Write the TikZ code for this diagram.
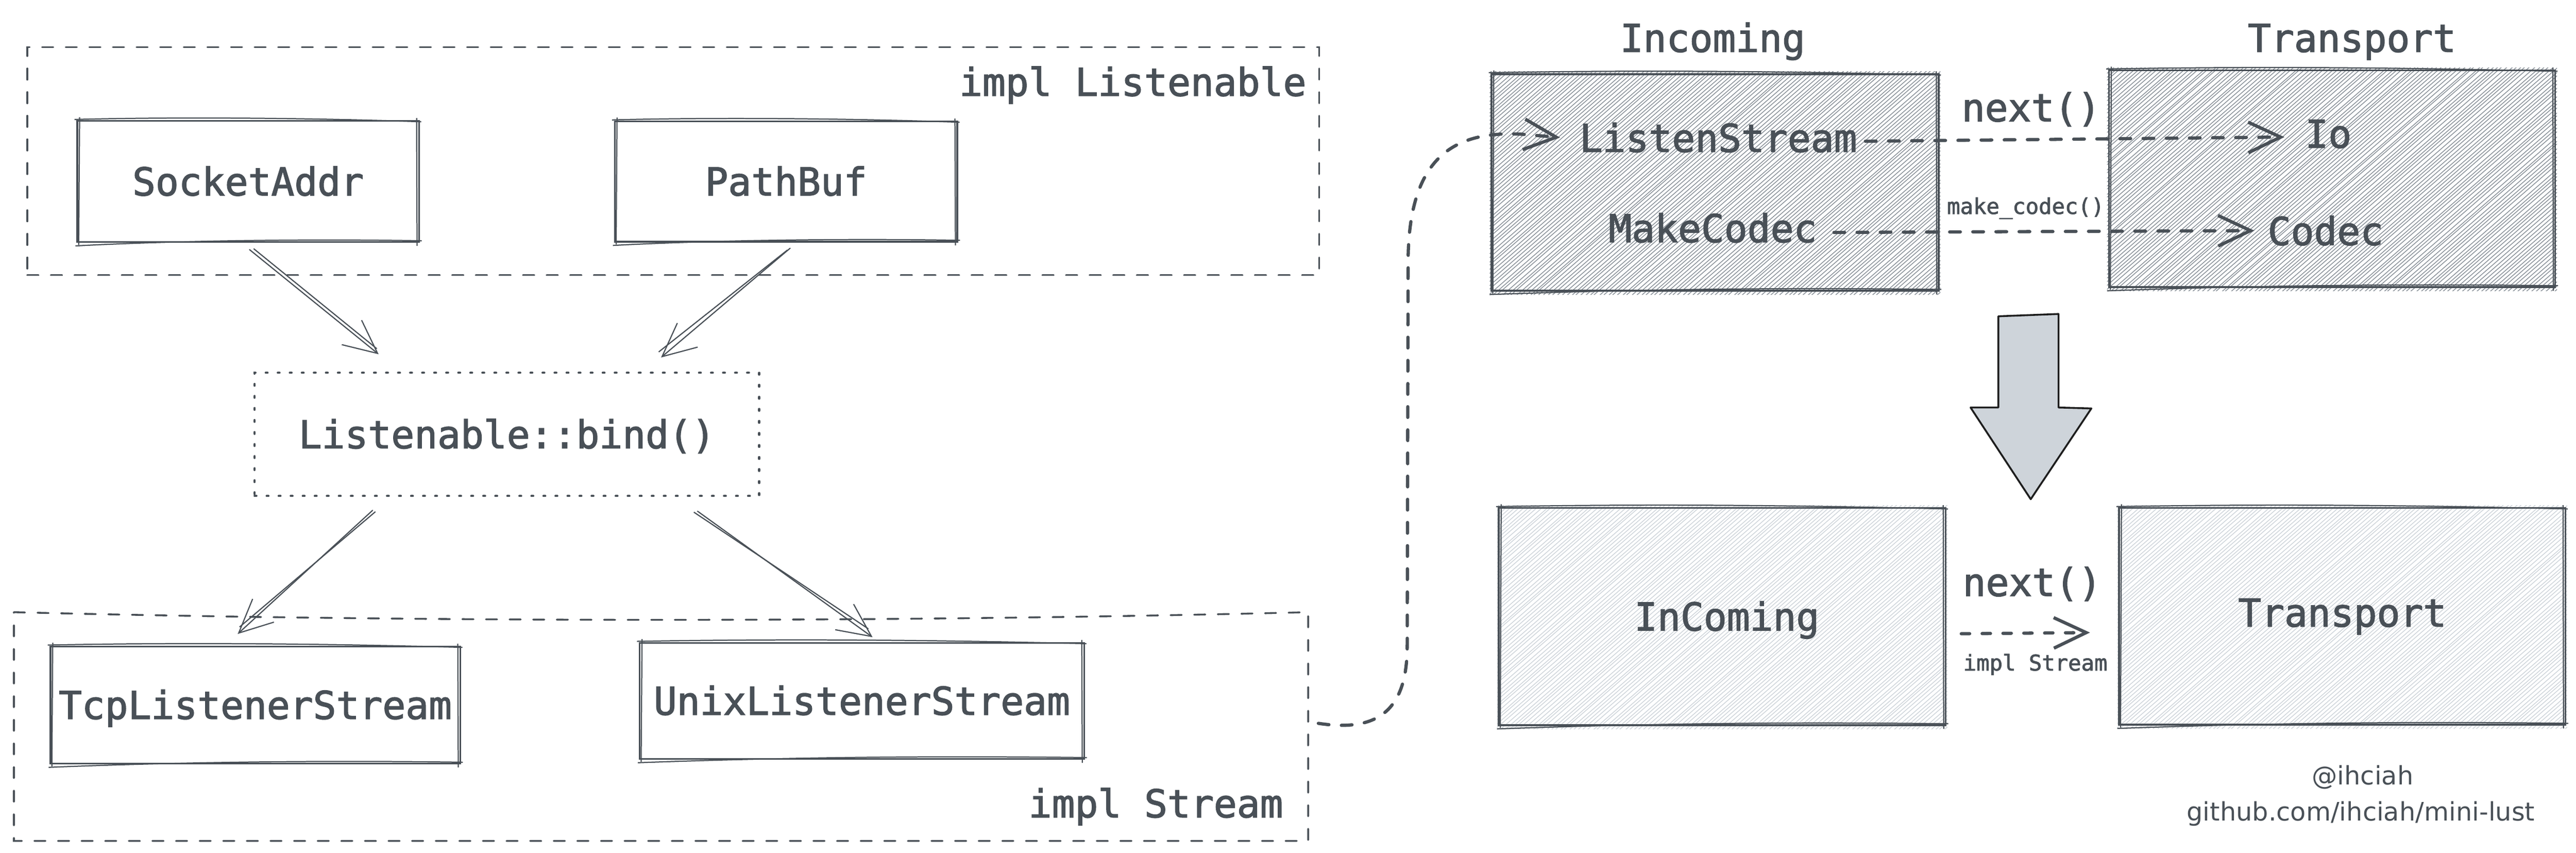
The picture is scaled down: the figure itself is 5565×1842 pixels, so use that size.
\documentclass[tikz,border=0pt]{standalone}
\usepackage{fontspec}
\setmonofont{DejaVu Sans Mono}[FakeBold=2]
\newfontfamily\handfont{DejaVu Sans}
\usetikzlibrary{calc,arrows.meta}
\definecolor{ink}{HTML}{495057}
\definecolor{hatchdark}{HTML}{868E96}
\definecolor{hatchlight}{HTML}{CED4DA}
\definecolor{arrowfill}{HTML}{CED4DA}
\definecolor{arrowink}{HTML}{1E1E1E}
\newcommand\skout[1]{%
  \draw[skline] ($(#1.north west)+(-6,-3)$) .. controls ($(#1.north)+(-150,-9)$) and ($(#1.north)+(150,-6)$) .. ($(#1.north east)+(5,2)$);
  \draw[skline] ($(#1.south west)+(-4,8)$) .. controls ($(#1.south)+(-150,-4)$) and ($(#1.south)+(150,-7)$) .. ($(#1.south east)+(6,-3)$);
  \draw[skline] ($(#1.north east)+(-5,-6)$) -- ($(#1.south east)+(-4,8)$);
  \draw[skline] ($(#1.north west)+(5,-8)$) -- ($(#1.south west)+(3,6)$);
}
\newcommand\hatchfill[2]{%
  \begin{scope}
    \clip ($(#1.north west)+(-4,-6)$) rectangle ($(#1.south east)+(4,8)$);
    \foreach \k in {0,...,160} {\draw[#2, line width=1.6pt] ($(#1.south west)+(\k*10-570+4*rnd,10)$) -- ++(800,-695);}
  \end{scope}
}
\begin{document}
\begin{tikzpicture}[x=1pt,y=-1pt,
  every node/.style={inner sep=0pt, outer sep=0pt, text=ink},
  mono/.style={font=\fontsize{83pt}{100pt}\selectfont\ttfamily},
  smallmono/.style={font=\fontsize{47pt}{56pt}\selectfont\ttfamily},
  hand/.style={font=\fontsize{55pt}{66pt}\selectfont\handfont},
  sbox/.style={mono, draw=ink, line width=3.5pt, text height=60pt, text depth=0pt},
  boxtext/.style={mono, text height=60pt, text depth=0pt},
  hbox/.style={draw=ink, line width=4pt},
  skline/.style={draw=ink, line width=2.5pt},
  dashbox/.style={draw=ink, line width=4pt, line cap=round, dash pattern=on 24pt off 27pt},
  dotbox/.style={draw=ink, line width=4.5pt, line cap=round, dash pattern=on 4pt off 22pt},
  flow/.style={draw=ink, line width=7pt, line cap=round, dash pattern=on 23pt off 27pt, -{Straight Barb[length=70pt,width=66pt]}},
  flowshort/.style={draw=ink, line width=7pt, line cap=round, dash pattern=on 18pt off 27pt, -{Straight Barb[length=70pt,width=66pt]}},
  thinarrow/.style={draw=ink, line width=2.5pt, line cap=round, -{Straight Barb[length=72pt,width=68pt]}},
  bigarrow/.style={draw=arrowink, fill=arrowfill, line width=4pt, line join=round},
]
\pgfmathsetseed{11}
\useasboundingbox (0,0) rectangle (5565,1842);
\fill[white] (0,0) rectangle (5565,1842);

% ---------------- left part ----------------
\node[dashbox, minimum width=2791pt, minimum height=492pt] (implL) at (1454.5,348) {};
\node[mono, anchor=base east] (lblL) at (2822,207) {impl Listenable};

\node[sbox, minimum width=738pt, minimum height=262pt] (socket) at (536,392) {SocketAddr};
\skout{socket}
\node[sbox, minimum width=740pt, minimum height=260pt] (pathbuf) at (1698,392) {PathBuf};
\skout{pathbuf}

\node[dotbox, mono, text height=60pt, text depth=0pt, minimum width=1090pt, minimum height=266pt] (bind) at (1095,938) {Listenable::bind()};

\node[minimum width=2796pt, minimum height=494pt] (implS) at (1428,1569) {};
\draw[dashbox] (implS.north west) .. controls ($(implS.north west)+(900,22)$) and ($(implS.north east)+(-900,22)$) .. (implS.north east) -- (implS.south east) -- (implS.south west) -- cycle;
\node[mono, anchor=base east] (lblS) at (2772,1765) {impl Stream};

\node[sbox, minimum width=885pt, minimum height=253pt] (tcp) at (551.5,1522.5) {TcpListenerStream};
\skout{tcp}
\node[sbox, minimum width=960pt, minimum height=251pt] (unix) at (1862,1513.5) {UnixListenerStream};
\skout{unix}

% arrows (sketchy double lines)
\draw[thinarrow] ($(socket.south)+(3,16)$) -- ($(bind.north)+(-277,-40)$);
\draw[skline] ($(socket.south)+(12,14)$) -- ($(bind.north)+(-281,-52)$);
\draw[thinarrow] ($(pathbuf.south)+(9,14)$) -- ($(bind.north)+(333,-33)$);
\draw[skline] ($(pathbuf.south)+(3,18)$) -- ($(bind.north)+(328,-45)$);
\draw[thinarrow] ($(bind.south)+(-290,31)$) -- ($(tcp.north)+(-38,-27)$);
\draw[skline] ($(bind.south)+(-284,34)$) -- ($(tcp.north)+(-34,-42)$);
\draw[thinarrow] ($(bind.south)+(412,33)$) -- ($(unix.north)+(23,-12)$);
\draw[skline] ($(bind.south)+(404,35)$) -- ($(unix.north)+(14,-30)$);

% ---------------- right upper ----------------
\node[mono, anchor=base] (hInc) at (3700,112) {Incoming};
\node[mono, anchor=base] (hTrans) at (5081,112) {Transport};

\node[minimum width=966pt, minimum height=468pt] (inc) at (3705,394) {};
\hatchfill{inc}{hatchdark}
\draw[hbox] (inc.north west) rectangle (inc.south east);
\skout{inc}
\node[minimum width=964pt, minimum height=468pt] (trans) at (5038,386) {};
\hatchfill{trans}{hatchdark}
\draw[hbox] (trans.north west) rectangle (trans.south east);
\skout{trans}

\node[mono, anchor=base] (listen) at (3712,328) {ListenStream};
\node[mono, anchor=base] (io) at (5030,319) {Io};
\node[mono, anchor=base] (mkc) at (3700,523) {MakeCodec};
\node[mono, anchor=base] (codec) at (5024,529) {Codec};
\node[mono, anchor=base] (lNext) at (4388,262) {next()};
\node[smallmono, anchor=base] (lMake) at (4376,462) {make\_codec()};

\draw[flow] ($(listen.base east)+(18,-23)$) -- ($(io.base west)+(-45,-23)$);
\draw[flow] ($(mkc.base east)+(37,-21)$) -- ($(codec.base west)+(-29,-31)$);

% curve from impl Stream to ListenStream
\coordinate (cstart) at ($(implS.east)+(22,-7)$);
\draw[flow] (cstart) .. controls (2990,1584) and (3040,1520) .. (3040,1394) -- (3042,560) .. controls (3044,330) and (3150,282) .. (3290,290) -- ($(listen.base west)+(-42,-31)$);

% big arrow
\draw[bigarrow] (4317,683) -- (4447,678) -- (4447,880) -- (4518,882) -- (4387,1078) -- (4257,880) -- (4317,880) -- cycle;

% ---------------- right lower ----------------
\node[minimum width=965pt, minimum height=469pt] (inc2) at (3720.5,1331.5) {};
\hatchfill{inc2}{hatchlight}
\draw[hbox] (inc2.north west) rectangle (inc2.south east);
\skout{inc2}
\node[boxtext] (inc2t) at ($(inc2)+(10,0)$) {InComing};

\node[minimum width=964pt, minimum height=468pt] (trans2) at (5060,1331) {};
\hatchfill{trans2}{hatchlight}
\draw[hbox] (trans2.north west) rectangle (trans2.south east);
\skout{trans2}
\node[boxtext] (trans2t) at ($(trans2)+(0,-8)$) {Transport};

\node[mono, anchor=base] (lNext2) at (4390,1287) {next()};
\node[smallmono, anchor=base] (lImpl2) at (4397,1448) {impl Stream};
\draw[flowshort] ($(inc2.east)+(34,37)$) -- ($(trans2.west)+(-63,35)$);

% signature
\node[hand, anchor=base] (sig1) at (5104,1695) {@ihciah};
\node[hand, anchor=base] (sig2) at (5100,1772) {github.com/ihciah/mini-lust};
\end{tikzpicture}
\end{document}
